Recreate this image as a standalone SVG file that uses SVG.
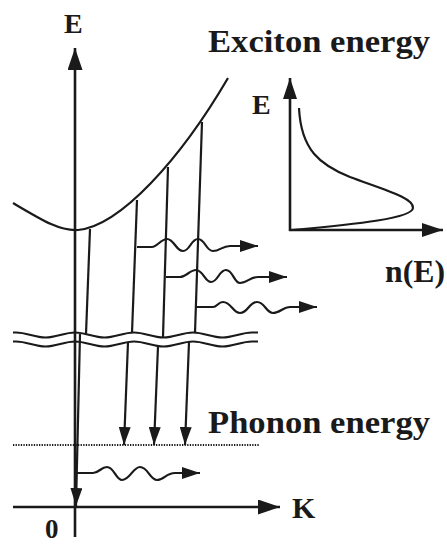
<svg xmlns="http://www.w3.org/2000/svg" width="447" height="544" viewBox="0 0 447 544">
<style>
.ln{fill:none;stroke:#1a1a1a;stroke-width:2.2;stroke-linejoin:round}
.ax{fill:none;stroke:#1a1a1a;stroke-width:2.6}
.dot{fill:none;stroke:#1a1a1a;stroke-width:2;stroke-dasharray:1.3 1.3}
text{font-family:'Liberation Serif','DejaVu Serif',serif;font-weight:bold;fill:#1a1a1a}
</style>
<defs>
<marker id="hA" markerUnits="userSpaceOnUse" markerWidth="22" markerHeight="15" refX="22" refY="7.5" orient="auto"><path d="M0,0 L22,7.5 L0,15 z" fill="#1a1a1a"/></marker>
<marker id="hB" markerUnits="userSpaceOnUse" markerWidth="18" markerHeight="12" refX="18" refY="6" orient="auto"><path d="M0,0 L18,6 L0,12 z" fill="#1a1a1a"/></marker>
<marker id="hC" markerUnits="userSpaceOnUse" markerWidth="21" markerHeight="14" refX="21" refY="7" orient="auto"><path d="M0,0 L21,7 L0,14 z" fill="#1a1a1a"/></marker>
<path id="brk" d="M13,332.5 L16,332.5 C26.7,332.5 34.8,337.5 45.5,337.5 C56.2,337.5 64.3,332.5 75,332.5 C85.7,332.5 93.8,337.5 104.5,337.5 C115.2,337.5 123.3,332.5 134,332.5 C144.7,332.5 152.8,337.5 163.5,337.5 C174.2,337.5 182.3,332.5 193,332.5 C203.7,332.5 211.8,337.5 222.5,337.5 C233.2,337.5 241.3,332.5 252,332.5 L258,332.5"/>
</defs>
<rect width="447" height="544" fill="#fff"/>

<g id="axes">
<line class="ax" x1="75" y1="537" x2="75" y2="48" marker-end="url(#hA)"/>
<line class="ax" x1="13" y1="507" x2="280" y2="507" marker-end="url(#hA)"/>
</g>

<g id="dispersion">
<path class="ln" d="M13,203 C45,222 60,231 78,230 C120,226 180,160 228,78"/>
</g>

<g id="break">
<use href="#brk" class="ln"/>
<use href="#brk" class="ln" transform="translate(0,9)"/>
</g>

<g id="phonon-level">
<line class="dot" x1="13" y1="445" x2="260" y2="445"/>
</g>

<g id="connectors">
<line class="ln" x1="90" y1="229" x2="86" y2="334"/>
<line class="ln" x1="137" y1="200" x2="132" y2="333"/>
<line class="ln" x1="168" y1="167" x2="163" y2="337"/>
<line class="ln" x1="202" y1="122" x2="195" y2="333"/>
<line class="ln" x1="80" y1="334" x2="76" y2="506" marker-end="url(#hB)"/>
<line class="ln" x1="128" y1="342" x2="124" y2="445" marker-end="url(#hB)"/>
<line class="ln" x1="158" y1="346" x2="154" y2="445" marker-end="url(#hB)"/>
<line class="ln" x1="189" y1="342" x2="185" y2="445" marker-end="url(#hB)"/>
<path class="ln" d="M137,247 L152,247 C157,247 161,239 167,239 C174,239 176,251 183,251 C190,251 191,239 198,239 C205,239 206,251 213,251 C220,251 222,246 230,246 L258,246" marker-end="url(#hB)"/>
<path class="ln" d="M166,277 L180,277 C186,277 190,270 196,270 C203,270 205,282 211,282 C218,282 219,270 226,270 C233,270 234,283 240,283 C247,283 250,277 258,277 L287,277" marker-end="url(#hB)"/>
<path class="ln" d="M195,307 L213,307 C217,307 218,302 223,302 C231,302 233,313 240,313 C248,313 249,302 257,302 C265,302 266,313 273,313 C280,313 283,307 290,307 L317,307" marker-end="url(#hB)"/>
<path class="ln" d="M76,473 L93,473 C99,473 101,467 107,467 C114,467 116,480 122,480 C130,480 133,467 140,467 C148,467 150,480 157,480 C164,480 166,473 175,473 L200,473" marker-end="url(#hB)"/>
</g>

<g id="inset">
<line class="ax" x1="290" y1="231" x2="290" y2="78" marker-end="url(#hC)"/>
<line class="ax" x1="289" y1="230" x2="443" y2="230" marker-end="url(#hC)"/>
<path class="ln" d="M299,108 C301,150 320,165 350,177 C385,190 414,198 413,208 C412,218 360,224 292,230"/>
</g>

<g id="labels">
<text x="64" y="33" font-size="28">E</text>
<text x="208" y="52" font-size="32" textLength="222" lengthAdjust="spacingAndGlyphs">Exciton energy</text>
<text x="252" y="114" font-size="28">E</text>
<text x="385" y="282" font-size="31" textLength="60" lengthAdjust="spacingAndGlyphs">n(E)</text>
<text x="208" y="433" font-size="32" textLength="222" lengthAdjust="spacingAndGlyphs">Phonon energy</text>
<text x="292" y="518" font-size="30">K</text>
<text x="45" y="538" font-size="27">0</text>
</g>
</svg>
